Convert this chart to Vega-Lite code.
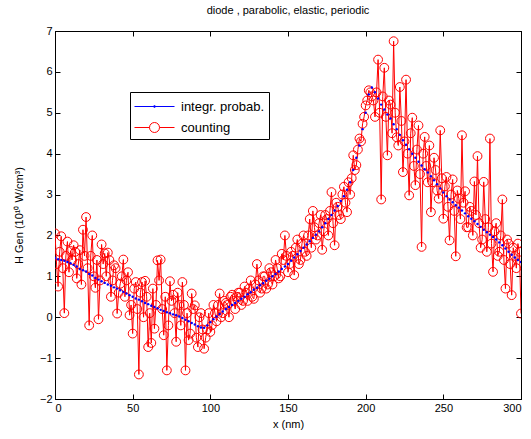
{
"$schema": "https://vega.github.io/schema/vega-lite/v6.json",
"width": 466, "height": 368,
"autosize": {"type": "none"},
"padding": {"left": 55, "top": 31, "right": 10, "bottom": 40},
"title": {"text": "diode , parabolic, elastic, periodic", "fontSize": 11, "fontWeight": "normal", "font": "Liberation Sans", "offset": 9, "color": "black"},
"config": {
  "font": "Liberation Sans",
  "view": {"stroke": "black", "strokeWidth": 1},
  "axis": {"grid": false, "domainColor": "black", "tickColor": "black", "labelColor": "black", "titleColor": "black", "labelFontSize": 11, "titleFontSize": 11, "titleFontWeight": "normal", "tickSize": -5, "labelPadding": 8, "labelFont": "Liberation Sans", "titleFont": "Liberation Sans"}
},
"data": {"values": [
{"x":0,"ip":1.45,"c":2.05},{"x":1,"c":1.3},{"x":2,"ip":1.42,"c":0.75},{"x":3,"c":1.6},{"x":4,"ip":1.40,"c":1.98},{"x":5,"c":1.2},{"x":6,"ip":1.38,"c":0.10},{"x":7,"c":1.5},{"x":8,"ip":1.35,"c":1.85},{"x":9,"c":1.1},
{"x":10,"ip":1.32,"c":1.62},{"x":11,"c":1.4},{"x":12,"ip":1.28,"c":1.76},{"x":13,"c":1.6},{"x":14,"ip":1.24,"c":0.95},{"x":15,"c":1.3},{"x":16,"ip":1.18,"c":1.64},{"x":17,"c":0.8},{"x":18,"ip":1.15,"c":2.14},{"x":19,"c":1.5},
{"x":20,"ip":1.12,"c":2.45},{"x":21,"c":1.2},{"x":22,"ip":1.06,"c":-0.20},{"x":23,"c":1.5},{"x":24,"ip":1.02,"c":2.00},{"x":25,"c":1.0},{"x":26,"ip":0.96,"c":0.72},{"x":27,"c":1.4},{"x":28,"ip":0.92,"c":-0.05},{"x":29,"c":0.9},
{"x":30,"ip":0.88,"c":1.78},{"x":31,"c":1.3},{"x":32,"ip":0.84,"c":1.56},{"x":33,"c":1.0},{"x":34,"ip":0.80,"c":1.58},{"x":35,"c":1.4},{"x":36,"ip":0.77,"c":0.50},{"x":37,"c":0.9},{"x":38,"ip":0.73,"c":1.27},{"x":39,"c":1.2},
{"x":40,"ip":0.70,"c":0.09},{"x":41,"c":0.6},{"x":42,"ip":0.66,"c":0.82},{"x":43,"c":1.0},{"x":44,"ip":0.62,"c":1.41},{"x":45,"c":0.5},{"x":46,"ip":0.58,"c":0.90},{"x":47,"c":1.1},{"x":48,"ip":0.54,"c":0.05},{"x":49,"c":0.3},
{"x":50,"ip":0.50,"c":-0.40},{"x":51,"c":0.7},{"x":52,"ip":0.46,"c":0.86},{"x":53,"c":0.2},{"x":54,"ip":0.43,"c":-1.40},{"x":55,"c":0.6},{"x":56,"ip":0.39,"c":0.86},{"x":57,"c":0.0},{"x":58,"ip":0.35,"c":0.89},{"x":59,"c":0.5},
{"x":60,"ip":0.32,"c":-0.73},{"x":61,"c":0.1},{"x":62,"ip":0.28,"c":-0.63},{"x":63,"c":0.7},{"x":64,"ip":0.25,"c":-0.28},{"x":65,"c":0.3},{"x":66,"ip":0.22,"c":1.39},{"x":67,"c":0.9},{"x":68,"ip":0.18,"c":1.41},{"x":69,"c":0.2},
{"x":70,"ip":0.15,"c":-0.44},{"x":71,"c":0.5},{"x":72,"ip":0.12,"c":-1.30},{"x":73,"c":-0.2},{"x":74,"ip":0.10,"c":0.88},{"x":75,"c":0.4},{"x":76,"ip":0.07,"c":0.55},{"x":77,"c":0.1},{"x":78,"ip":0.05,"c":-0.60},{"x":79,"c":0.6},
{"x":80,"ip":0.02,"c":0.30},{"x":81,"c":-0.2},{"x":82,"ip":-0.02,"c":0.86},{"x":83,"c":0.3},{"x":84,"ip":-0.06,"c":-1.30},{"x":85,"c":0.1},{"x":86,"ip":-0.10,"c":-0.56},{"x":87,"c":-0.4},{"x":88,"ip":-0.14,"c":0.58},{"x":89,"c":0.2},
{"x":90,"ip":-0.18,"c":0.29},{"x":91,"c":-0.5},{"x":92,"ip":-0.22,"c":-0.73},{"x":93,"c":0.0},{"x":94,"ip":-0.25,"c":0.10},{"x":95,"c":-0.3},{"x":96,"ip":-0.26,"c":-0.77},{"x":97,"c":-0.5},{"x":98,"ip":-0.20,"c":-0.30},{"x":99,"c":0.1},
{"x":100,"ip":-0.12,"c":-0.36},{"x":101,"c":-0.2},{"x":102,"ip":-0.05,"c":0.30},{"x":103,"c":0.1},{"x":104,"ip":0.02,"c":-0.10},{"x":105,"c":0.3},{"x":106,"ip":0.08,"c":0.58},{"x":107,"c":0.0},{"x":108,"ip":0.14,"c":0.10},{"x":109,"c":0.4},
{"x":110,"ip":0.20,"c":0.35},{"x":111,"c":0.3},{"x":112,"ip":0.25,"c":0.00},{"x":113,"c":0.5},{"x":114,"ip":0.30,"c":0.55},{"x":115,"c":0.4},{"x":116,"ip":0.35,"c":0.20},{"x":117,"c":0.5},{"x":118,"ip":0.40,"c":0.60},{"x":119,"c":0.6},
{"x":120,"ip":0.45,"c":0.30},{"x":121,"c":0.4},{"x":122,"ip":0.50,"c":0.75},{"x":123,"c":0.6},{"x":124,"ip":0.56,"c":0.40},{"x":125,"c":0.7},{"x":126,"ip":0.61,"c":0.90},{"x":127,"c":0.5},{"x":128,"ip":0.67,"c":0.45},{"x":129,"c":0.8},
{"x":130,"ip":0.72,"c":1.30},{"x":131,"c":0.9},{"x":132,"ip":0.78,"c":0.60},{"x":133,"c":0.7},{"x":134,"ip":0.83,"c":1.00},{"x":135,"c":1.0},{"x":136,"ip":0.89,"c":0.70},{"x":137,"c":0.8},{"x":138,"ip":0.94,"c":1.20},{"x":139,"c":1.1},
{"x":140,"ip":1.00,"c":0.80},{"x":141,"c":1.0},{"x":142,"ip":1.06,"c":1.40},{"x":143,"c":1.2},{"x":144,"ip":1.12,"c":0.95},{"x":145,"c":1.0},{"x":146,"ip":1.18,"c":1.55},{"x":147,"c":1.4},{"x":148,"ip":1.24,"c":2.00},{"x":149,"c":1.5},
{"x":150,"ip":1.30,"c":1.10},{"x":151,"c":1.3},{"x":152,"ip":1.38,"c":1.60},{"x":153,"c":1.5},{"x":154,"ip":1.46,"c":1.03},{"x":155,"c":1.7},{"x":156,"ip":1.54,"c":1.90},{"x":157,"c":1.3},{"x":158,"ip":1.62,"c":1.40},{"x":159,"c":1.8},
{"x":160,"ip":1.70,"c":2.00},{"x":161,"c":1.6},{"x":162,"ip":1.78,"c":1.50},{"x":163,"c":2.0},{"x":164,"ip":1.86,"c":2.40},{"x":165,"c":1.7},{"x":166,"ip":1.94,"c":2.60},{"x":167,"c":2.2},{"x":168,"ip":2.02,"c":1.90},{"x":169,"c":2.0},
{"x":170,"ip":2.10,"c":2.30},{"x":171,"c":2.5},{"x":172,"ip":2.20,"c":1.65},{"x":173,"c":2.1},{"x":174,"ip":2.30,"c":2.50},{"x":175,"c":2.4},{"x":176,"ip":2.40,"c":2.00},{"x":177,"c":2.6},{"x":178,"ip":2.50,"c":3.06},{"x":179,"c":2.3},
{"x":180,"ip":2.61,"c":1.76},{"x":181,"c":2.8},{"x":182,"ip":2.72,"c":2.70},{"x":183,"c":2.5},{"x":184,"ip":2.84,"c":2.40},{"x":185,"c":3.0},{"x":186,"ip":2.96,"c":3.19},{"x":187,"c":2.8},{"x":188,"ip":3.12,"c":2.57},{"x":189,"c":3.3},
{"x":190,"ip":3.30,"c":3.00},{"x":191,"c":3.4},{"x":192,"ip":3.60,"c":3.96},{"x":193,"c":3.6},{"x":194,"ip":3.90,"c":3.72},{"x":195,"c":4.1},{"x":196,"ip":4.20,"c":4.37},{"x":197,"c":4.3},{"x":198,"ip":4.60,"c":4.73},{"x":199,"c":4.9},
{"x":200,"ip":5.00,"c":5.18},{"x":201,"c":5.3},{"x":202,"ip":5.45,"c":5.55},{"x":203,"c":5.5},{"x":204,"ip":5.62,"c":5.40},{"x":205,"c":5.3},{"x":206,"ip":5.50,"c":4.90},{"x":207,"c":5.5},{"x":208,"ip":5.35,"c":6.30},{"x":209,"c":5.0},
{"x":210,"ip":5.20,"c":2.88},{"x":211,"c":5.4},{"x":212,"ip":5.08,"c":6.10},{"x":213,"c":4.9},{"x":214,"ip":4.96,"c":3.96},{"x":215,"c":5.3},{"x":216,"ip":4.86,"c":5.20},{"x":217,"c":4.5},{"x":218,"ip":4.72,"c":6.75},{"x":219,"c":5.0},
{"x":220,"ip":4.60,"c":4.40},{"x":221,"c":4.2},{"x":222,"ip":4.46,"c":5.63},{"x":223,"c":4.8},{"x":224,"ip":4.33,"c":3.55},{"x":225,"c":4.3},{"x":226,"ip":4.22,"c":5.81},{"x":227,"c":4.0},{"x":228,"ip":4.11,"c":2.98},{"x":229,"c":4.5},
{"x":230,"ip":4.00,"c":4.88},{"x":231,"c":3.7},{"x":232,"ip":3.90,"c":3.23},{"x":233,"c":4.1},{"x":234,"ip":3.80,"c":4.69},{"x":235,"c":3.5},{"x":236,"ip":3.71,"c":1.72},{"x":237,"c":4.0},{"x":238,"ip":3.62,"c":4.41},{"x":239,"c":3.7},
{"x":240,"ip":3.54,"c":3.30},{"x":241,"c":4.2},{"x":242,"ip":3.45,"c":2.57},{"x":243,"c":3.3},{"x":244,"ip":3.35,"c":3.90},{"x":245,"c":3.6},{"x":246,"ip":3.25,"c":3.10},{"x":247,"c":2.9},{"x":248,"ip":3.15,"c":4.57},{"x":249,"c":3.4},
{"x":250,"ip":3.05,"c":2.41},{"x":251,"c":3.2},{"x":252,"ip":2.96,"c":3.43},{"x":253,"c":2.7},{"x":254,"ip":2.88,"c":1.88},{"x":255,"c":3.0},{"x":256,"ip":2.81,"c":3.37},{"x":257,"c":2.6},{"x":258,"ip":2.74,"c":1.49},{"x":259,"c":3.1},
{"x":260,"ip":2.68,"c":2.90},{"x":261,"c":2.4},{"x":262,"ip":2.61,"c":4.45},{"x":263,"c":2.8},{"x":264,"ip":2.54,"c":3.08},{"x":265,"c":2.2},{"x":266,"ip":2.47,"c":2.20},{"x":267,"c":2.7},{"x":268,"ip":2.41,"c":2.60},{"x":269,"c":2.0},
{"x":270,"ip":2.35,"c":3.32},{"x":271,"c":2.5},{"x":272,"ip":2.28,"c":3.94},{"x":273,"c":2.3},{"x":274,"ip":2.21,"c":1.70},{"x":275,"c":1.9},{"x":276,"ip":2.14,"c":3.31},{"x":277,"c":2.4},{"x":278,"ip":2.08,"c":1.60},{"x":279,"c":2.2},
{"x":280,"ip":2.02,"c":4.37},{"x":281,"c":1.8},{"x":282,"ip":1.96,"c":1.11},{"x":283,"c":2.1},{"x":284,"ip":1.90,"c":2.30},{"x":285,"c":1.5},{"x":286,"ip":1.83,"c":1.60},{"x":287,"c":2.0},{"x":288,"ip":1.76,"c":2.88},{"x":289,"c":1.4},
{"x":290,"ip":1.68,"c":0.70},{"x":291,"c":1.9},{"x":292,"ip":1.60,"c":1.80},{"x":293,"c":1.3},{"x":294,"ip":1.53,"c":0.54},{"x":295,"c":1.7},{"x":296,"ip":1.46,"c":1.50},{"x":297,"c":1.2},{"x":298,"ip":1.40,"c":1.80},{"x":299,"c":1.6},
{"x":300,"ip":1.35,"c":0.09}
]},
"layer": [
  {
    "mark": {"type": "line", "strokeWidth": 1, "point": {"filled": false, "size": 78, "strokeWidth": 1, "color": "#ff0000"}, "clip": true},
    "encoding": {
      "x": {"field": "x", "type": "quantitative", "scale": {"domain": [0, 300], "nice": false}, "axis": {"orient": "bottom", "values": [0,50,100,150,200,250,300], "title": "x (nm)", "titlePadding": 5}},
      "y": {"field": "c", "type": "quantitative", "scale": {"domain": [-2, 7], "nice": false}, "axis": {"orient": "left", "values": [-2,-1,0,1,2,3,4,5,6,7], "title": "H Gen (10¹⁰ W/cm³)", "titlePadding": 15}},
      "color": {"datum": "counting", "type": "nominal", "scale": {"domain": ["integr. probab.", "counting"], "range": ["#0000ff", "#ff0000"]},
        "legend": {"title": null, "orient": "none", "legendX": 75, "legendY": 61, "fillColor": "white", "strokeColor": "black", "padding": 4, "labelFontSize": 13, "labelColor": "black", "symbolSize": 400, "symbolStrokeWidth": 1, "symbolFillColor": "transparent", "symbolOffset": 10, "rowPadding": 3, "labelOffset": 16,
          "encode": {"symbols": {"update": {"shape": {"signal": "datum.label === 'counting' ? 'M-2,0H-0.5M0.5,0H2M0.5,0A0.5,0.5,0,1,1,-0.5,0A0.5,0.5,0,1,1,0.5,0' : 'M-2,0H2M0.1,0A0.1,0.1,0,1,1,-0.1,0A0.1,0.1,0,1,1,0.1,0'"}, "fill": {"value": "transparent"}, "fillOpacity": {"value": 0}}}}}}
    }
  },
  {
    "mark": {"type": "line", "strokeWidth": 1, "point": {"filled": true, "size": 6, "color": "#0000ff"}, "clip": true},
    "encoding": {
      "x": {"field": "x", "type": "quantitative", "axis": {"orient": "top", "values": [0,50,100,150,200,250,300], "labels": false, "title": null, "domain": true}},
      "y": {"field": "ip", "type": "quantitative", "axis": {"orient": "right", "values": [-2,-1,0,1,2,3,4,5,6,7], "labels": false, "title": null}},
      "color": {"datum": "integr. probab.", "type": "nominal"}
    }
  }
],
"resolve": {"axis": {"x": "independent", "y": "independent"}}
}
